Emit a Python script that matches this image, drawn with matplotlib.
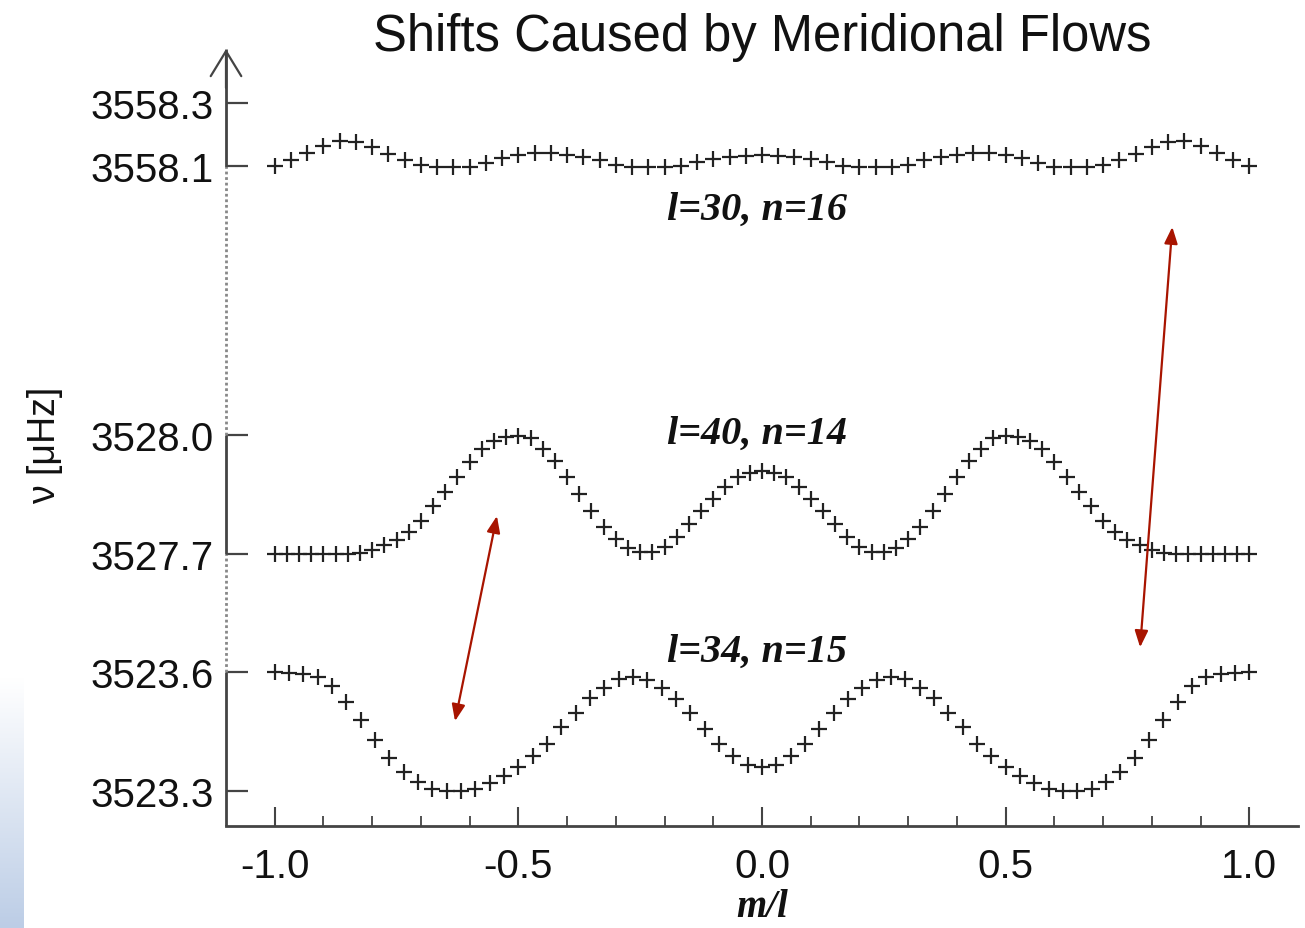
import numpy as np
import matplotlib
matplotlib.use('Agg')
import matplotlib.pyplot as plt
from matplotlib.ticker import FixedLocator, FormatStrFormatter
from matplotlib.colors import LinearSegmentedColormap

plt.rcParams['font.family'] = ['Liberation Sans', 'DejaVu Sans']

# ---------------- data ----------------
title = "Shifts Caused by Meridional Flows"
xlabel = "m/l"
ylabel = "ν [μHz]"

degree_top, degree_mid, degree_bot = 30, 40, 34
label_top = "l=30, n=16"
label_mid = "l=40, n=14"
label_bot = "l=34, n=15"

# l=30, n=16   (m = -30 ... 30)
nu_top = [3558.103, 3558.120, 3558.142, 3558.166, 3558.181, 3558.176, 3558.162, 3558.139,
          3558.120, 3558.106, 3558.092, 3558.090, 3558.094, 3558.110, 3558.127, 3558.136,
          3558.142, 3558.142, 3558.136, 3558.129, 3558.120, 3558.106, 3558.097, 3558.092,
          3558.094, 3558.103, 3558.113, 3558.124, 3558.129, 3558.134, 3558.137,
          3558.134, 3558.129, 3558.124, 3558.113, 3558.103, 3558.094, 3558.092, 3558.097,
          3558.106, 3558.120, 3558.129, 3558.136, 3558.142, 3558.142, 3558.136, 3558.127,
          3558.110, 3558.094, 3558.090, 3558.092, 3558.106, 3558.120, 3558.139, 3558.162,
          3558.176, 3558.181, 3558.166, 3558.142, 3558.120, 3558.103]

# l=40, n=14   (m = -40 ... 40)
nu_mid = [3527.700, 3527.700, 3527.700, 3527.700, 3527.700, 3527.700, 3527.700,
          3527.702, 3527.709, 3527.722, 3527.734, 3527.754, 3527.783, 3527.821, 3527.855,
          3527.893, 3527.931, 3527.965, 3527.984, 3527.996, 3527.997, 3527.992, 3527.965,
          3527.935, 3527.895, 3527.851, 3527.808, 3527.766, 3527.737, 3527.714, 3527.703,
          3527.703, 3527.716, 3527.741, 3527.775, 3527.808, 3527.838, 3527.868, 3527.893,
          3527.905, 3527.910,
          3527.905, 3527.893, 3527.868, 3527.838, 3527.808, 3527.775, 3527.741, 3527.716,
          3527.703, 3527.703, 3527.714, 3527.737, 3527.766, 3527.808, 3527.851, 3527.895,
          3527.935, 3527.965, 3527.992, 3527.997, 3527.996, 3527.984, 3527.965, 3527.931,
          3527.893, 3527.855, 3527.821, 3527.783, 3527.754, 3527.734, 3527.722, 3527.709,
          3527.702, 3527.700, 3527.700, 3527.700, 3527.700, 3527.700, 3527.700, 3527.700]

# l=34, n=15   (m = -34 ... 34)
nu_bot = [3523.599, 3523.597, 3523.595, 3523.587, 3523.566, 3523.525, 3523.479, 3523.429,
          3523.383, 3523.347, 3523.322, 3523.305, 3523.299, 3523.299, 3523.305, 3523.320,
          3523.339, 3523.360, 3523.389, 3523.418, 3523.461, 3523.498, 3523.534, 3523.561,
          3523.582, 3523.587, 3523.581, 3523.559, 3523.532, 3523.497, 3523.456, 3523.418,
          3523.389, 3523.366, 3523.360,
          3523.366, 3523.389, 3523.418, 3523.456, 3523.497, 3523.532, 3523.559, 3523.581,
          3523.587, 3523.582, 3523.561, 3523.534, 3523.498, 3523.461, 3523.418, 3523.389,
          3523.360, 3523.339, 3523.320, 3523.305, 3523.299, 3523.299, 3523.305, 3523.322,
          3523.347, 3523.383, 3523.429, 3523.479, 3523.525, 3523.566, 3523.587, 3523.595,
          3523.597, 3523.599]

m_top = np.arange(-degree_top, degree_top + 1) / degree_top
m_mid = np.arange(-degree_mid, degree_mid + 1) / degree_mid
m_bot = np.arange(-degree_bot, degree_bot + 1) / degree_bot

ytick_vals = [3523.3, 3523.6, 3527.7, 3528.0, 3558.1, 3558.3]
xtick_vals = [-1.0, -0.5, 0.0, 0.5, 1.0]
xminor_vals = [-0.9, -0.8, -0.7, -0.6, -0.4, -0.3, -0.2, -0.1,
               0.1, 0.2, 0.3, 0.4, 0.6, 0.7, 0.8, 0.9]

# ---------------- broken (piecewise-linear) y scale ----------------
brk_vals = np.array([3523.3, 3523.6, 3527.7, 3528.0, 3558.1, 3558.3])
brk_pos = np.array([0.0, 119.0, 237.5, 356.0, 624.5, 688.0])
s_lo = (brk_pos[1] - brk_pos[0]) / (brk_vals[1] - brk_vals[0])
s_hi = (brk_pos[-1] - brk_pos[-2]) / (brk_vals[-1] - brk_vals[-2])


def fwd(v):
    a = np.array(v, dtype=float)
    shp = a.shape
    a = np.atleast_1d(a).ravel()
    out = np.interp(a, brk_vals, brk_pos)
    lo = a < brk_vals[0]
    hi = a > brk_vals[-1]
    out[lo] = brk_pos[0] + (a[lo] - brk_vals[0]) * s_lo
    out[hi] = brk_pos[-1] + (a[hi] - brk_vals[-1]) * s_hi
    return out.reshape(shp)


def inv(p):
    a = np.array(p, dtype=float)
    shp = a.shape
    a = np.atleast_1d(a).ravel()
    out = np.interp(a, brk_pos, brk_vals)
    lo = a < brk_pos[0]
    hi = a > brk_pos[-1]
    out[lo] = brk_vals[0] + (a[lo] - brk_pos[0]) / s_lo
    out[hi] = brk_vals[-1] + (a[hi] - brk_pos[-1]) / s_hi
    return out.reshape(shp)


# ---------------- figure ----------------
W, H = 1305, 929
fig = plt.figure(figsize=(W / 100, H / 100), dpi=100)
fig.patch.set_facecolor('white')

# faint blue strip at the lower-left edge (slide background)
bax = fig.add_axes([0, 0, 24 / W, 250 / H])
grad = np.linspace(0, 1, 256).reshape(-1, 1)
cmap = LinearSegmentedColormap.from_list('bl', ['#bccde6', '#ffffff'])
bax.imshow(grad, aspect='auto', cmap=cmap, origin='lower', extent=[0, 1, 0, 1])
bax.axis('off')

ax = fig.add_axes([226 / W, 102 / H, 1072 / W, 777 / H])
ax.set_yscale('function', functions=(fwd, inv))
ax.set_xlim(-1.1, 1.1)
ax.set_ylim(3523.212, 3558.470)

mk = dict(marker='+', linestyle='none', color='#222222', markersize=12, markeredgewidth=1.6)
ax.plot(m_top, nu_top, **mk)
ax.plot(m_mid, nu_mid, **mk)
ax.plot(m_bot, nu_bot, **mk)

# ticks
ax.yaxis.set_major_locator(FixedLocator(ytick_vals))
ax.yaxis.set_minor_locator(FixedLocator([]))
ax.yaxis.set_major_formatter(FormatStrFormatter('%.1f'))
ax.xaxis.set_major_locator(FixedLocator(xtick_vals))
ax.xaxis.set_minor_locator(FixedLocator(xminor_vals))
ax.xaxis.set_major_formatter(FormatStrFormatter('%.1f'))
ax.tick_params(axis='y', which='major', direction='in', length=16, width=1.6,
               color='#444444', labelsize=29, pad=9, labelcolor='#111111')
ax.tick_params(axis='x', which='major', direction='in', length=14, width=1.5,
               color='#444444', labelsize=29, pad=15, labelcolor='#111111')
ax.tick_params(axis='x', which='minor', direction='in', length=7, width=1.3, color='#444444')

for s in ['top', 'right', 'left']:
    ax.spines[s].set_visible(False)
ax.spines['bottom'].set_color('#444444')
ax.spines['bottom'].set_linewidth(2)

# left axis drawn with solid and dotted (broken) parts
yt = ax.get_yaxis_transform()
ax.plot([0, 0], [3523.212, 3523.6], transform=yt, color='#444444', lw=2, clip_on=False, solid_capstyle='butt')
ax.plot([0, 0], [3523.6, 3527.7], transform=yt, color='#888888', lw=2, ls=(0, (1, 1)), clip_on=False)
ax.plot([0, 0], [3527.7, 3528.0], transform=yt, color='#444444', lw=2, clip_on=False, solid_capstyle='butt')
ax.plot([0, 0], [3528.0, 3558.07], transform=yt, color='#888888', lw=2, ls=(0, (1, 1)), clip_on=False)
ax.plot([0, 0], [3558.07, 3558.470], transform=yt, color='#444444', lw=2, clip_on=False, solid_capstyle='butt')
ax.annotate('', xy=(0, 1.0), xytext=(0, 0.95), xycoords='axes fraction', textcoords='axes fraction',
            arrowprops=dict(arrowstyle='->,head_length=1.8,head_width=1.1', mutation_scale=10,
                            color='#444444', lw=1.6, shrinkA=0, shrinkB=0), annotation_clip=False)

# series labels
xt = ax.get_xaxis_transform()
lab_font = dict(family=['Liberation Serif', 'DejaVu Serif'], weight='bold', style='italic',
                fontsize=29, color='#111111', ha='center', va='baseline')
ax.text(-0.01, 0.781, label_top, transform=xt, **lab_font)
ax.text(-0.01, 0.493, label_mid, transform=xt, **lab_font)
ax.text(-0.01, 0.212, label_bot, transform=xt, **lab_font)

# red double arrows
red = '#a81400'
for (x0, y0, x1, y1) in [(-0.544, 0.399, -0.630, 0.135), (0.842, 0.771, 0.776, 0.230)]:
    ax.annotate('', xy=(x1, y1), xytext=(x0, y0), xycoords=xt, textcoords=xt,
                arrowprops=dict(arrowstyle='<|-|>,head_length=1.0,head_width=0.4', mutation_scale=10,
                                color=red, lw=1.6, shrinkA=0, shrinkB=0))

# titles / labels
fig.text(762 / W, 1 - 37 / H, title, ha='center', va='center', fontsize=36.5, color='#111111')
fig.text(45 / W, 1 - 445 / H, ylabel, ha='center', va='center', rotation=90, fontsize=27, color='#111111')
fig.text(762 / W, 1 - 908 / H, xlabel, ha='center', va='center', fontsize=28, color='#111111',
         family=['Liberation Serif', 'DejaVu Serif'], weight='bold', style='italic')

fig.savefig('out.png', dpi=100, facecolor='white')
